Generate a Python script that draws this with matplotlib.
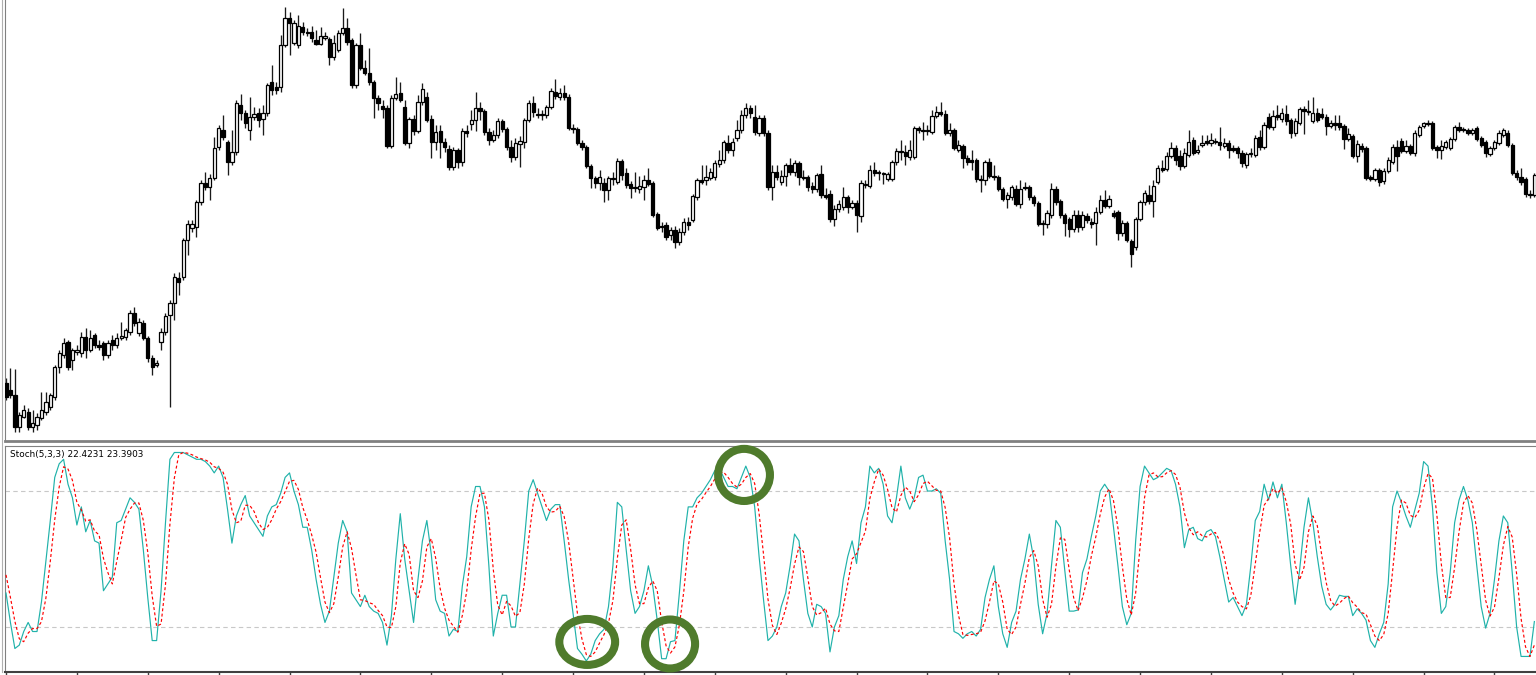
#!/usr/bin/env python3
"""Candlestick chart with a Stoch(5,3,3) sub-window, MT4 style."""
import matplotlib
matplotlib.use("Agg")
import matplotlib.pyplot as plt
from matplotlib.patches import Ellipse
from matplotlib.lines import Line2D
import numpy as np

# OHLC, one entry per bar (price in chart points)
OPEN = [
    67, 60, 55, 23, 33, 38, 23, 25, 32, 38,
    43, 53, 83, 95, 108, 90, 98, 97, 113, 100,
    115, 105, 107, 95, 110, 105, 112, 113, 118, 137,
    117, 127, 112, 92, 85, 108, 118, 135, 147, 172,
    173, 210, 222, 223, 248, 267, 263, 272, 303, 320,
    308, 288, 298, 345, 337, 320, 333, 337, 331, 337,
    368, 363, 363, 405, 432, 407, 405, 423, 418, 418,
    410, 406, 412, 411, 393, 400, 417, 422, 410, 365,
    405, 382, 377, 368, 352, 344, 342, 304, 352, 357,
    343, 307, 331, 319, 348, 353, 331, 308, 319, 308,
    301, 283, 300, 288, 319, 326, 330, 342, 339, 318,
    310, 315, 329, 321, 303, 293, 306, 308, 330, 347,
    335, 335, 335, 343, 358, 353, 357, 353, 322, 321,
    307, 303, 284, 272, 267, 267, 260, 272, 268, 289,
    277, 266, 263, 261, 263, 270, 267, 236, 224, 225,
    215, 220, 208, 218, 228, 230, 253, 270, 270, 272,
    273, 286, 290, 307, 300, 312, 320, 335, 342, 333,
    317, 332, 317, 263, 278, 268, 274, 285, 278, 287,
    273, 273, 264, 261, 276, 255, 256, 231, 241, 243,
    253, 243, 247, 234, 265, 264, 280, 277, 276, 271,
    271, 288, 299, 298, 293, 293, 322, 320, 319, 318,
    334, 338, 336, 317, 320, 300, 304, 292, 290, 290,
    270, 270, 288, 274, 273, 261, 251, 253, 261, 246,
    263, 263, 253, 247, 226, 226, 235, 261, 249, 235,
    231, 221, 235, 223, 234, 228, 227, 238, 250, 244,
    237, 238, 217, 227, 209, 203, 231, 248, 255, 249,
    268, 282, 281, 294, 302, 294, 284, 295, 310, 298,
    305, 309, 307, 308, 308, 304, 307, 302, 302, 297,
    285, 296, 295, 313, 303, 333, 323, 335, 331, 336,
    330, 317, 327, 341, 339, 329, 337, 336, 333, 324,
    327, 327, 324, 311, 314, 294, 304, 302, 273, 271,
    280, 269, 279, 288, 303, 309, 299, 304, 297, 315,
    324, 327, 327, 303, 300, 303, 302, 311, 323, 321,
    320, 317, 322, 312, 308, 296, 302, 307, 315, 317,
    305, 277, 273, 271, 256, 255,
]
CLOSE = [
    53, 55, 23, 35, 40, 23, 27, 33, 40, 48,
    55, 83, 97, 107, 83, 100, 100, 113, 100, 112,
    105, 103, 95, 107, 105, 112, 114, 120, 137, 127,
    128, 112, 92, 83, 87, 118, 134, 147, 173, 168,
    210, 226, 226, 248, 267, 263, 272, 302, 322, 313,
    288, 298, 347, 337, 327, 333, 336, 330, 337, 365,
    360, 360, 405, 432, 427, 427, 424, 418, 417, 412,
    406, 414, 414, 393, 407, 417, 422, 408, 365, 405,
    382, 377, 368, 352, 347, 341, 304, 352, 356, 350,
    307, 331, 319, 348, 361, 330, 308, 318, 308, 303,
    283, 300, 288, 319, 317, 330, 342, 339, 318, 310,
    315, 329, 321, 303, 293, 307, 309, 330, 347, 338,
    335, 335, 343, 359, 354, 357, 353, 322, 321, 307,
    303, 284, 272, 267, 273, 260, 272, 271, 289, 275,
    265, 262, 262, 264, 270, 266, 235, 222, 223, 213,
    220, 208, 218, 228, 225, 254, 270, 268, 273, 278,
    287, 290, 308, 300, 308, 320, 335, 342, 337, 318,
    332, 317, 263, 278, 273, 274, 285, 278, 287, 273,
    272, 263, 261, 275, 255, 253, 231, 241, 246, 253,
    243, 247, 235, 267, 266, 280, 277, 277, 276, 276,
    288, 299, 298, 294, 300, 322, 320, 319, 320, 334,
    338, 336, 317, 320, 302, 305, 292, 288, 288, 271,
    270, 288, 274, 273, 261, 251, 255, 263, 246, 261,
    262, 253, 247, 226, 226, 237, 261, 248, 235, 227,
    221, 235, 223, 235, 230, 226, 238, 250, 244, 251,
    234, 217, 227, 210, 196, 231, 248, 257, 249, 264,
    282, 280, 294, 302, 290, 284, 297, 308, 297, 300,
    307, 307, 310, 308, 305, 307, 300, 300, 297, 287,
    296, 297, 312, 303, 325, 323, 334, 333, 337, 329,
    317, 329, 341, 339, 338, 337, 330, 333, 324, 327,
    325, 323, 311, 316, 294, 306, 301, 272, 271, 280,
    268, 279, 290, 303, 294, 299, 304, 297, 317, 323,
    327, 326, 302, 300, 304, 308, 311, 323, 320, 320,
    317, 320, 311, 305, 297, 302, 308, 317, 320, 305,
    277, 273, 268, 256, 255, 275,
]
HIGH = [
    72, 82, 81, 38, 45, 42, 40, 37, 58, 58,
    57, 85, 100, 112, 110, 102, 105, 118, 122, 120,
    117, 110, 109, 110, 115, 117, 128, 122, 140, 143,
    132, 130, 114, 95, 90, 122, 137, 150, 177, 178,
    212, 230, 230, 250, 270, 278, 276, 313, 325, 335,
    310, 320, 350, 356, 340, 353, 343, 342, 345, 367,
    385, 368, 415, 443, 438, 430, 435, 428, 422, 424,
    420, 423, 418, 413, 415, 420, 442, 432, 412, 407,
    417, 390, 402, 370, 355, 350, 345, 355, 373, 368,
    350, 333, 335, 355, 367, 358, 335, 325, 325, 312,
    305, 303, 302, 322, 325, 340, 358, 348, 341, 322,
    320, 332, 331, 323, 310, 312, 314, 332, 350, 354,
    342, 340, 345, 362, 371, 362, 365, 356, 326, 323,
    310, 305, 286, 274, 280, 272, 274, 278, 292, 291,
    282, 269, 278, 274, 275, 282, 269, 238, 228, 228,
    223, 224, 222, 232, 233, 256, 272, 285, 285, 282,
    290, 300, 310, 315, 312, 330, 340, 347, 345, 345,
    335, 335, 320, 285, 285, 280, 287, 292, 290, 289,
    280, 275, 268, 277, 285, 262, 260, 245, 250, 263,
    255, 250, 250, 270, 270, 285, 288, 280, 278, 278,
    290, 302, 310, 305, 310, 324, 324, 328, 325, 340,
    344, 348, 340, 327, 322, 310, 306, 295, 300, 292,
    275, 290, 292, 285, 275, 263, 258, 265, 265, 270,
    268, 265, 255, 249, 230, 240, 267, 264, 251, 237,
    233, 240, 240, 239, 237, 232, 243, 255, 260, 255,
    240, 240, 230, 229, 211, 233, 250, 260, 265, 270,
    285, 290, 298, 308, 305, 300, 302, 320, 313, 305,
    315, 315, 317, 312, 323, 312, 310, 305, 304, 300,
    298, 302, 315, 320, 328, 337, 340, 345, 342, 345,
    332, 332, 343, 344, 350, 353, 342, 342, 336, 330,
    335, 335, 326, 322, 316, 310, 307, 304, 275, 282,
    282, 282, 293, 306, 310, 312, 310, 306, 320, 325,
    328, 330, 329, 305, 310, 310, 313, 325, 328, 323,
    322, 322, 324, 314, 310, 304, 310, 320, 322, 320,
    307, 280, 282, 273, 260, 277,
]
LOW = [
    50, 52, 18, 18, 32, 20, 18, 20, 30, 35,
    40, 50, 77, 92, 80, 80, 95, 93, 92, 98,
    102, 100, 90, 92, 100, 102, 110, 110, 115, 124,
    114, 110, 88, 75, 83, 100, 115, 43, 130, 155,
    170, 195, 218, 213, 245, 260, 250, 270, 300, 310,
    275, 285, 295, 330, 322, 310, 330, 323, 315, 334,
    355, 356, 358, 403, 395, 405, 402, 415, 414, 408,
    405, 405, 410, 385, 390, 398, 415, 405, 362, 362,
    380, 375, 365, 332, 340, 332, 302, 302, 350, 348,
    305, 302, 315, 317, 345, 328, 292, 300, 292, 298,
    280, 280, 282, 284, 313, 320, 319, 330, 315, 305,
    308, 312, 318, 300, 288, 290, 283, 302, 328, 333,
    332, 330, 332, 341, 351, 350, 350, 320, 317, 305,
    300, 282, 262, 262, 260, 248, 250, 265, 266, 270,
    262, 252, 258, 257, 250, 264, 233, 220, 218, 210,
    210, 202, 205, 215, 220, 228, 250, 266, 265, 270,
    270, 283, 287, 297, 294, 309, 317, 332, 332, 315,
    314, 314, 260, 250, 270, 265, 264, 275, 274, 265,
    270, 259, 257, 258, 252, 251, 228, 224, 238, 240,
    237, 241, 218, 228, 262, 262, 274, 270, 266, 269,
    269, 285, 290, 285, 290, 291, 317, 310, 315, 316,
    332, 334, 315, 314, 300, 298, 282, 285, 280, 268,
    258, 265, 272, 270, 259, 249, 242, 250, 244, 242,
    260, 250, 244, 224, 215, 222, 232, 245, 232, 214,
    213, 218, 218, 220, 227, 222, 205, 236, 242, 242,
    232, 210, 214, 208, 183, 200, 229, 245, 246, 233,
    266, 278, 279, 292, 285, 280, 282, 293, 295, 296,
    303, 305, 304, 306, 300, 302, 292, 298, 292, 283,
    282, 293, 293, 300, 301, 321, 320, 330, 328, 325,
    312, 314, 325, 316, 335, 327, 328, 331, 315, 322,
    320, 320, 301, 309, 292, 288, 298, 270, 269, 269,
    264, 266, 277, 286, 279, 297, 297, 295, 294, 313,
    322, 324, 300, 292, 291, 301, 300, 309, 318, 318,
    315, 315, 309, 303, 293, 294, 300, 305, 313, 303,
    275, 270, 265, 253, 252, 253,
]

# Stochastic %K (main) and %D (signal)
STOCH_K = [
    35, 22, 10.5, 12, 18, 22, 18, 18, 31, 49,
    67, 86, 92, 94, 83, 77, 65, 73, 62, 67,
    58, 57, 36, 39, 42, 66, 67, 72, 77, 75,
    72, 54, 33, 14, 14, 36, 66, 94, 97, 97,
    97, 96, 95, 94, 94, 93, 91, 88, 91, 86,
    72, 57, 69, 74, 78, 69, 66, 63, 60, 69,
    73, 74, 79, 86, 88, 80, 74, 64, 64, 54,
    41, 30, 22, 27, 42, 57, 67, 62, 35, 32,
    29, 34, 29, 27, 26, 22, 12, 25, 50, 70,
    50, 36, 22, 41, 58, 67, 52, 32, 27, 26,
    16, 19, 18, 38, 51, 73, 82, 82, 73, 47,
    16, 26, 34, 34, 20, 20, 39, 58, 80, 85,
    79, 73, 67, 72, 74, 74, 58, 41, 26, 10.5,
    8, 5, 8, 14, 17, 19, 29, 47, 75, 73,
    54, 36, 26, 29, 36, 47, 38, 23, 6, 6,
    13.5, 14, 35, 58, 73, 73, 77, 79, 82, 85,
    89, 90, 86, 82, 82, 81, 86, 91, 86, 73,
    51, 32, 14, 16, 20, 29, 35, 47, 61, 58,
    41, 26, 20, 30, 29, 26, 9, 20, 25, 41,
    51, 58, 48, 66, 73, 91, 88, 90, 83, 69,
    66, 77, 91, 77, 72, 77, 86, 87, 80, 80,
    81, 79, 58, 41, 18, 17, 15, 17, 18, 16,
    19, 33, 41, 47, 29, 17, 11, 22, 27, 41,
    50, 61, 50, 30, 17, 26, 47, 67, 64, 45,
    27, 27, 27.5, 44, 50, 60, 69, 80, 83, 80,
    64, 47, 29, 21, 26, 58, 82, 91, 88, 85,
    86, 88, 90, 89, 83, 73, 55, 63, 64, 59,
    58, 62, 63, 60, 51, 41, 31, 33, 29, 25,
    30, 47, 67, 71, 83, 76, 84, 77, 83, 66,
    47, 30, 45, 64, 77, 66, 51, 38, 30, 27.5,
    30, 34, 33.5, 33.5, 25, 28, 26, 23, 14, 11,
    17, 22, 39, 73, 80, 75, 69, 64, 71.5, 79,
    93, 91, 73, 44, 26, 29, 44, 66, 76, 82,
    76, 66, 47, 29, 19.5, 26, 41, 58, 69, 66,
    44, 20, 7, 7, 7, 22.4,
]
STOCH_D = [
    43, 33, 22.5, 14.8, 13.5, 17.3, 19.3, 19.3, 22.3, 32.7,
    49, 67.3, 81.7, 90.7, 89.7, 84.7, 75, 71.7, 66.7, 67.3,
    62.3, 60.7, 50.3, 44, 39, 49, 58.3, 68.3, 72, 74.7,
    74.7, 67, 53, 33.7, 20.3, 21.3, 38.7, 65.3, 85.7, 96,
    97, 96.7, 96, 95, 94.3, 93.7, 92.7, 90.7, 90, 88.3,
    83, 71.7, 66, 66.7, 73.7, 73.7, 71, 66, 63, 64,
    67.3, 72, 75.3, 79.7, 84.3, 84.7, 80.7, 72.7, 67.3, 60.7,
    53, 41.7, 31, 26.3, 30.3, 42, 55.3, 62, 54.7, 43,
    32, 31.7, 30.7, 30, 27.3, 25, 20, 19.7, 29, 48.3,
    56.7, 52, 36, 33, 40.3, 55.3, 59, 50.3, 37, 28.3,
    23, 20.3, 17.7, 25, 35.7, 54, 68.7, 79, 79, 67.3,
    45.3, 29.7, 25.3, 31.3, 29.3, 24.7, 26.3, 39, 59, 74.3,
    81.3, 79, 73, 70.7, 71, 73.3, 68.7, 57.7, 41.7, 25.8,
    14.8, 7.8, 7, 9, 13, 16.7, 21.7, 31.7, 50.3, 65,
    67.3, 54.3, 38.7, 30.3, 30.3, 37.3, 40.3, 36, 22.3, 11.7,
    8.5, 11.2, 20.8, 35.7, 55.3, 68, 74.3, 76.3, 79.3, 82,
    85.3, 88, 88.3, 86, 83.3, 81.7, 83, 86, 87.7, 83.3,
    70, 52, 32.3, 20.7, 16.7, 21.7, 28, 37, 47.7, 55.3,
    53.3, 41.7, 29, 25.3, 26.3, 28.3, 21.3, 18.3, 18, 28.7,
    39, 50, 52.3, 57.3, 62.3, 76.7, 84, 89.7, 87, 80.7,
    72.7, 70.7, 78, 81.7, 80, 75.3, 78.3, 83.3, 84.3, 82.3,
    80.3, 80, 72.7, 59.3, 39, 25.3, 16.7, 16.3, 16.7, 17,
    17.7, 22.7, 31, 40.3, 39, 31, 19, 16.7, 20, 30,
    39.3, 50.7, 53.7, 47, 32.3, 24.3, 30, 46.7, 59.3, 58.7,
    45.3, 33, 27.2, 32.8, 40.5, 51.3, 59.7, 69.7, 77.3, 81,
    75.7, 63.7, 46.7, 32.3, 25.3, 35, 55.3, 77, 87, 88,
    86.3, 86.3, 88, 89, 87.3, 81.7, 70.3, 63.7, 60.7, 62,
    60.3, 59.7, 61, 61.7, 58, 50.7, 41, 35, 31, 29,
    28, 34, 48, 61.7, 73.7, 76.7, 81, 79, 81.3, 75.3,
    65.3, 47.7, 40.7, 46.3, 62, 69, 64.7, 51.7, 39.7, 31.8,
    29.2, 30.5, 32.5, 33.7, 30.7, 28.8, 26.3, 25.7, 21, 16,
    14, 16.7, 26, 44.7, 64, 76, 74.7, 69.3, 68.2, 71.5,
    81.2, 87.7, 85.7, 69.3, 47.7, 33, 33, 46.3, 62, 74.7,
    78, 74.7, 63, 47.3, 31.8, 24.8, 28.8, 41.7, 56, 64.3,
    59.7, 43.3, 23.7, 11.3, 7, 12,
]
STOCH_LABEL = "Stoch(5,3,3) 22.4231 23.3903"
STOCH_LEVELS = [20, 80]

# spots circled on the oscillator (bar index, stoch value)
MARK_BARS = [131.2, 149.9, 166.6]
MARK_VALUES = [13.4, 12.5, 87.1]

W, H = 1536, 675


def draw_candles(ax, o, h, l, c):
    x = np.arange(len(c))
    up = c >= o
    ax.vlines(x, l, h, color="#1a1a1a", linewidth=0.95, zorder=2)
    lo = np.minimum(o, c)
    size = np.maximum(np.abs(c - o), 0.8)
    ax.bar(x[up], size[up], bottom=lo[up], width=0.74, color="white",
           edgecolor="black", linewidth=0.9, zorder=3)
    ax.bar(x[~up], size[~up], bottom=lo[~up], width=0.74, color="black",
           edgecolor="black", linewidth=0.9, zorder=3)


def main():
    o = np.array(OPEN, float)
    h = np.array(HIGH, float)
    l = np.array(LOW, float)
    c = np.array(CLOSE, float)
    n = len(c)
    x = np.arange(n)
    xlim = (-0.226, 345.37)

    fig = plt.figure(figsize=(W / 100, H / 100), dpi=100)
    fig.patch.set_facecolor("white")

    # price window
    ax = fig.add_axes([5 / W, 1 - 441 / H, 1531 / W, 441 / H])
    draw_candles(ax, o, h, l, c)
    ax.set_xlim(*xlim)
    ax.set_ylim(9, 450)
    ax.set_xticks([])
    ax.set_yticks([])
    for side in ("top", "right"):
        ax.spines[side].set_visible(False)
    ax.spines["left"].set_color("#808080")
    ax.spines["bottom"].set_color("#808080")
    ax.spines["bottom"].set_linewidth(2.0)

    # stochastic window
    ax2 = fig.add_axes([5 / W, 1 - 672.3 / H, 1531 / W, 226.6 / H])
    for lvl in STOCH_LEVELS:
        ax2.axhline(lvl, color="#c8c8c8", linewidth=0.8, linestyle=(0, (4, 3)), zorder=1)
    ax2.plot(x, STOCH_K, color="#20b2aa", linewidth=0.85, zorder=3)
    ax2.plot(x, STOCH_D, color="#ff0000", linewidth=0.85,
             linestyle=(0, (2.5, 2)), zorder=4)
    ax2.set_xlim(*xlim)
    ax2.set_ylim(0, 100)
    ax2.set_yticks([])
    ax2.set_xticks(np.arange(0, n, 16))
    ax2.tick_params(axis="x", direction="out", length=3, width=1,
                    color="#404040", labelbottom=False)
    ax2.spines["right"].set_visible(False)
    ax2.spines["top"].set_color("#808080")
    ax2.spines["left"].set_color("#808080")
    ax2.spines["bottom"].set_color("#404040")
    ax2.spines["bottom"].set_linewidth(1.5)
    ax2.text(5 / 1531, 0.959, STOCH_LABEL, transform=ax2.transAxes,
             fontsize=6.4, family="DejaVu Sans", ha="left", va="center",
             color="black")

    ring_sizes = [(12.6, 20.3), (11.3, 21.6), (11.7, 23.0)]
    for bx, val, (rw, rh) in zip(MARK_BARS, MARK_VALUES, ring_sizes):
        ax2.add_patch(Ellipse((bx, val), rw, rh, fill=False, edgecolor="#4f7b2c",
                              linewidth=5.8, clip_on=False, zorder=6))

    # outer frame line at the far left
    fig.add_artist(Line2D([1.5 / W, 1.5 / W], [1 - 672 / H, 1], transform=fig.transFigure,
                          color="#b0b0b0", linewidth=0.8))

    fig.savefig("out.png", dpi=100)
    plt.close(fig)


if __name__ == "__main__":
    main()
